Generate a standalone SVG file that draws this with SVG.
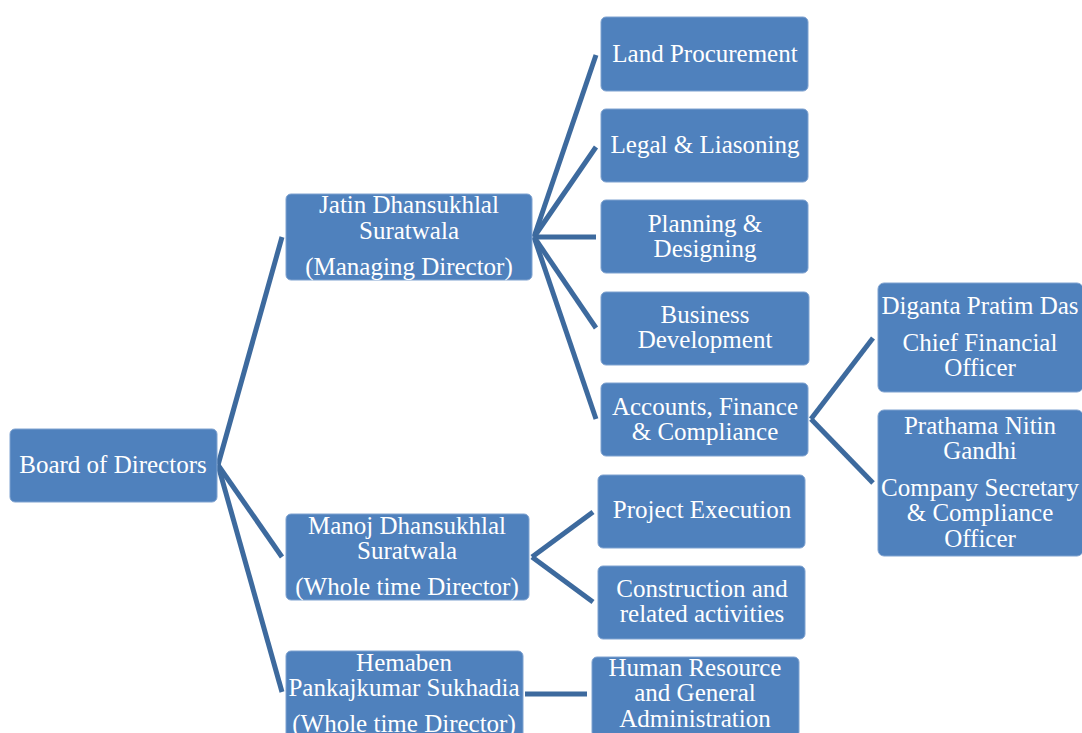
<svg xmlns="http://www.w3.org/2000/svg" width="1082" height="733" viewBox="0 0 1082 733">
<style>
.box{fill:#4f81bd;stroke:#7fa2d0;stroke-width:1}
.t{font-family:"Liberation Serif","Times New Roman",serif;font-size:25px;fill:#ffffff;text-anchor:middle}
.c{fill:none;stroke:#3d6a9e;stroke-width:5;stroke-linecap:butt}
</style>
<rect width="1082" height="733" fill="#ffffff"/>
<g id="connectors">
<line class="c" x1="218" y1="465" x2="282" y2="237"/>
<line class="c" x1="218" y1="465" x2="282" y2="557"/>
<line class="c" x1="218" y1="465" x2="282" y2="692"/>
<line class="c" x1="534" y1="237" x2="596" y2="55"/>
<line class="c" x1="534" y1="237" x2="596" y2="147"/>
<line class="c" x1="534" y1="237" x2="596" y2="237"/>
<line class="c" x1="534" y1="237" x2="596" y2="328"/>
<line class="c" x1="534" y1="237" x2="596" y2="419"/>
<line class="c" x1="811" y1="419" x2="873" y2="338"/>
<line class="c" x1="811" y1="419" x2="873" y2="483"/>
<line class="c" x1="532" y1="557" x2="593" y2="512"/>
<line class="c" x1="532" y1="557" x2="593" y2="602"/>
<line class="c" x1="525" y1="694" x2="587" y2="694"/>
</g>
<g id="board">
<rect class="box" x="10" y="429" width="207" height="73" rx="5"/>
<text class="t" x="113" y="473">Board of Directors</text>
</g>
<g id="jatin">
<rect class="box" x="286" y="194" width="246" height="86" rx="5"/>
<text class="t" x="409" y="213">Jatin Dhansukhlal</text>
<text class="t" x="409" y="239">Suratwala</text>
<text class="t" x="409" y="275">(Managing Director)</text>
</g>
<g id="manoj">
<rect class="box" x="286" y="514" width="243" height="86" rx="5"/>
<text class="t" x="407" y="534">Manoj Dhansukhlal</text>
<text class="t" x="407" y="559">Suratwala</text>
<text class="t" x="407" y="595">(Whole time Director)</text>
</g>
<g id="hemaben">
<rect class="box" x="286" y="651" width="237" height="90" rx="5"/>
<text class="t" x="404" y="671">Hemaben</text>
<text class="t" x="404" y="696">Pankajkumar Sukhadia</text>
<text class="t" x="404" y="732">(Whole time Director)</text>
</g>
<g id="land">
<rect class="box" x="601" y="17" width="207" height="74" rx="5"/>
<text class="t" x="705" y="62">Land Procurement</text>
</g>
<g id="legal">
<rect class="box" x="601" y="109" width="207" height="73" rx="5"/>
<text class="t" x="705" y="153">Legal &amp; Liasoning</text>
</g>
<g id="planning">
<rect class="box" x="601" y="200" width="207" height="73" rx="5"/>
<text class="t" x="705" y="232">Planning &amp;</text>
<text class="t" x="705" y="257">Designing</text>
</g>
<g id="business">
<rect class="box" x="601" y="292" width="208" height="73" rx="5"/>
<text class="t" x="705" y="323">Business</text>
<text class="t" x="705" y="348">Development</text>
</g>
<g id="accounts">
<rect class="box" x="601" y="383" width="207" height="73" rx="5"/>
<text class="t" x="705" y="415">Accounts, Finance</text>
<text class="t" x="705" y="440">&amp; Compliance</text>
</g>
<g id="diganta">
<rect class="box" x="878" y="283" width="205" height="109" rx="6"/>
<text class="t" x="980" y="314">Diganta Pratim Das</text>
<text class="t" x="980" y="351">Chief Financial</text>
<text class="t" x="980" y="376">Officer</text>
</g>
<g id="prathama">
<rect class="box" x="878" y="410" width="205" height="146" rx="6"/>
<text class="t" x="980" y="434">Prathama Nitin</text>
<text class="t" x="980" y="459">Gandhi</text>
<text class="t" x="980" y="496">Company Secretary</text>
<text class="t" x="980" y="521">&amp; Compliance</text>
<text class="t" x="980" y="547">Officer</text>
</g>
<g id="project">
<rect class="box" x="598" y="475" width="207" height="73" rx="5"/>
<text class="t" x="702" y="518">Project Execution</text>
</g>
<g id="construction">
<rect class="box" x="598" y="566" width="207" height="73" rx="5"/>
<text class="t" x="702" y="597">Construction and</text>
<text class="t" x="702" y="622">related activities</text>
</g>
<g id="hr">
<rect class="box" x="592" y="657" width="207" height="80" rx="5"/>
<text class="t" x="695" y="676">Human Resource</text>
<text class="t" x="695" y="701">and General</text>
<text class="t" x="695" y="727">Administration</text>
</g>
</svg>
